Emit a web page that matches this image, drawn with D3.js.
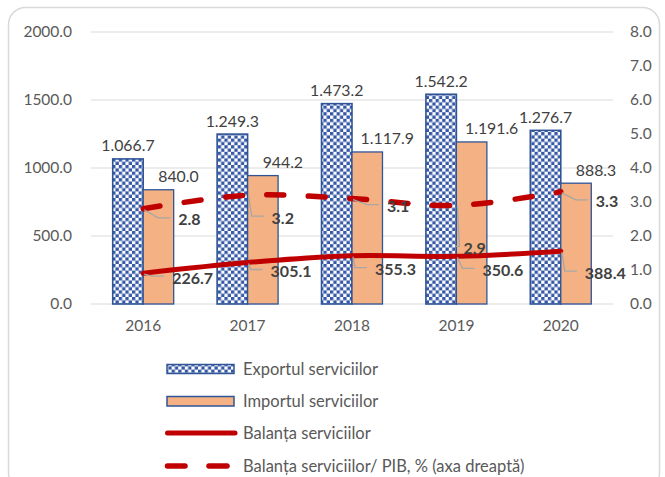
<!DOCTYPE html>
<html>
<head>
<meta charset="utf-8">
<script src="https://cdn.jsdelivr.net/npm/d3@7"></script>
<style>
  html, body { margin: 0; padding: 0; background: #fff; }
  svg { display: block; font-family: Lato, "Open Sans", sans-serif; }
</style>
</head>
<body>
<svg id="chart" width="665" height="477"></svg>
<script>
// Services trade, 2016–2020 (mil. USD) and balance as % of GDP
const years = ["2016", "2017", "2018", "2019", "2020"];
const exportVals = [1066.7, 1249.3, 1473.2, 1542.2, 1276.7];
const importVals = [840.0, 944.2, 1117.9, 1191.6, 888.3];
const balanceVals = [226.7, 305.1, 355.3, 350.6, 388.4];
const balanceGdpVals = [2.8, 3.2, 3.1, 2.9, 3.3];
const leftTicks = [0, 500, 1000, 1500, 2000];
const rightTicks = [0, 1, 2, 3, 4, 5, 6, 7, 8];
const seriesNames = [
  "Exportul serviciilor",
  "Importul serviciilor",
  "Balanța serviciilor",
  "Balanța serviciilor/ PIB, % (axa dreaptă)"
];

// label placement for the line series (offset of label's left edge / middle from the point)
const balanceLabelPos = [
  { dx: 29, dy: 5 }, { dx: 23, dy: 9 }, { dx: 23, dy: 14 }, { dx: 26, dy: 14 }, { dx: 24, dy: 22 }
];
const gdpLabelPos = [
  { dx: 35, dy: 11 }, { dx: 24, dy: 23 }, { dx: 35, dy: 8 }, { dx: 7, dy: 43 }, { dx: 35, dy: 10 }
];

const svg = d3.select("#chart");
const plot = { left: 91, right: 613, top: 32, bottom: 304 };

const x = d3.scaleBand().domain(years).range([plot.left, plot.right])
  .paddingInner(0.416).paddingOuter(0.208);
const xs = d3.scaleBand().domain(["exp", "imp"]).range([0, x.bandwidth()]);
const yL = d3.scaleLinear().domain([0, 2000]).range([plot.bottom, plot.top]);
const yR = d3.scaleLinear().domain([0, 8]).range([plot.bottom, plot.top]);
const cx = d => x(d) + x.bandwidth() / 2;

const grayText = "#595959";
const labelText = "#404040";
const red = "#C00000";
const blue = "#2F5597";
const orange = "#F4B183";

const fmtGroup = d3.formatLocale({ decimal: ".", thousands: ".", grouping: [3], currency: ["", ""] }).format(",.1f");
const fmt1 = d3.format(".1f");

// checkerboard fill for the export bars
const defs = svg.append("defs");
const pat = defs.append("pattern").attr("id", "checker")
  .attr("patternUnits", "userSpaceOnUse").attr("width", 6.6).attr("height", 6.6);
pat.append("rect").attr("width", 6.6).attr("height", 6.6).attr("fill", "#fff");
pat.append("rect").attr("width", 3.3).attr("height", 3.3).attr("fill", "#3558A6");
pat.append("rect").attr("x", 3.3).attr("y", 3.3).attr("width", 3.3).attr("height", 3.3).attr("fill", "#3558A6");

// outer frame
svg.append("rect").attr("x", 8.5).attr("y", 7.5).attr("width", 651).attr("height", 482)
  .attr("rx", 17).attr("fill", "#fff").attr("stroke", "#D9D9D9").attr("stroke-width", 1.5);

// gridlines
svg.append("g").selectAll("line").data(leftTicks).join("line")
  .attr("x1", plot.left).attr("x2", plot.right)
  .attr("y1", d => yL(d)).attr("y2", d => yL(d))
  .attr("stroke", "#D9D9D9").attr("stroke-width", 1.2);

// axes
const styleAxis = g => {
  g.select(".domain").remove();
  g.selectAll("text").attr("fill", grayText).style("font-size", "15.5px")
    .style("font-family", "Lato, 'Open Sans', sans-serif");
};
svg.append("g").attr("transform", `translate(${plot.left},0)`)
  .call(d3.axisLeft(yL).tickValues(leftTicks).tickSize(0).tickPadding(19).tickFormat(fmt1))
  .call(styleAxis);
svg.append("g").attr("transform", `translate(${plot.right},0)`)
  .call(d3.axisRight(yR).tickValues(rightTicks).tickSize(0).tickPadding(17).tickFormat(fmt1))
  .call(styleAxis);
svg.append("g").attr("transform", `translate(0,${plot.bottom})`)
  .call(d3.axisBottom(x).tickSize(0).tickPadding(16))
  .call(styleAxis);

// bars
const bars = svg.append("g");
bars.selectAll("rect.exp").data(years).join("rect").attr("class", "exp")
  .attr("x", (d) => x(d) + xs("exp"))
  .attr("width", xs.bandwidth())
  .attr("y", (d, i) => yL(exportVals[i]))
  .attr("height", (d, i) => yL(0) - yL(exportVals[i]))
  .attr("fill", "url(#checker)").attr("stroke", blue).attr("stroke-width", 1.6);
bars.selectAll("rect.imp").data(years).join("rect").attr("class", "imp")
  .attr("x", (d) => x(d) + xs("imp"))
  .attr("width", xs.bandwidth())
  .attr("y", (d, i) => yL(importVals[i]))
  .attr("height", (d, i) => yL(0) - yL(importVals[i]))
  .attr("fill", orange).attr("stroke", blue).attr("stroke-width", 1.3);

// bar value labels
const barLabels = svg.append("g").style("font-size", "15.8px").attr("fill", labelText);
barLabels.selectAll("text.exp").data(years).join("text")
  .attr("x", d => x(d) + xs("exp") + xs.bandwidth() / 2)
  .attr("y", (d, i) => yL(exportVals[i]) - 13)
  .attr("dy", "0.35em").attr("text-anchor", "middle")
  .text((d, i) => fmtGroup(exportVals[i]));
barLabels.selectAll("text.imp").data(years).join("text")
  .attr("x", d => x(d) + xs("imp") + xs.bandwidth() / 2 + 20)
  .attr("y", (d, i) => yL(importVals[i]) - 13)
  .attr("dy", "0.35em").attr("text-anchor", "middle")
  .text((d, i) => fmtGroup(importVals[i]));

// lines
const balancePts = years.map((d, i) => [cx(d), yL(balanceVals[i])]);
const gdpPts = years.map((d, i) => [cx(d), yR(balanceGdpVals[i])]);
const lineGen = d3.line().curve(d3.curveCatmullRom.alpha(0.5));

// leader lines + labels for a line series
function pointLabels(pts, vals, pos, fmt) {
  const g = svg.append("g");
  pts.forEach((p, i) => {
    const lx = p[0] + pos[i].dx, ly = p[1] + pos[i].dy;
    const end = [lx - 8, ly - 2];
    const elbow = [Math.max(p[0] + 3, end[0] - 12), end[1]];
    g.append("path")
      .attr("d", d3.line()([[p[0] + 1, p[1] + 1], elbow, end]))
      .attr("fill", "none").attr("stroke", "#A6A6A6").attr("stroke-width", 1.3);
    g.append("text").attr("x", lx).attr("y", ly).attr("dy", "0.35em")
      .attr("fill", labelText).style("font-size", "16px").style("font-weight", "bold")
      .text(fmt(vals[i]));
  });
}

svg.append("path").attr("d", lineGen(gdpPts))
  .attr("fill", "none").attr("stroke", red).attr("stroke-width", 5.5)
  .attr("stroke-linecap", "round").attr("stroke-dasharray", "17,24.5");
svg.append("path").attr("d", lineGen(balancePts))
  .attr("fill", "none").attr("stroke", red).attr("stroke-width", 5)
  .attr("stroke-linecap", "round");

pointLabels(gdpPts, balanceGdpVals, gdpLabelPos, fmt1);
pointLabels(balancePts, balanceVals, balanceLabelPos, fmt1);

// legend
const legend = svg.append("g");
const rows = [369, 401, 433, 466];
const symX0 = 167, symX1 = 234, textX = 243;
legend.append("rect").attr("x", symX0).attr("y", rows[0] - 4.5).attr("width", symX1 - symX0).attr("height", 9)
  .attr("fill", "url(#checker)").attr("stroke", blue).attr("stroke-width", 1.5);
legend.append("rect").attr("x", symX0).attr("y", rows[1] - 4.5).attr("width", symX1 - symX0).attr("height", 9.5)
  .attr("fill", orange).attr("stroke", blue).attr("stroke-width", 1.5);
legend.append("line").attr("x1", 167.5).attr("x2", 235).attr("y1", rows[2]).attr("y2", rows[2])
  .attr("stroke", red).attr("stroke-width", 5).attr("stroke-linecap", "round");
[[167.5, 185], [209, 227]].forEach(s => {
  legend.append("line").attr("x1", s[0]).attr("x2", s[1]).attr("y1", rows[3]).attr("y2", rows[3])
    .attr("stroke", red).attr("stroke-width", 5.5).attr("stroke-linecap", "round");
});
legend.selectAll("text").data(seriesNames).join("text")
  .attr("x", textX).attr("y", (d, i) => rows[i]).attr("dy", "0.35em")
  .attr("fill", grayText).style("font-size", "16.5px")
  .text(d => d);
</script>
</body>
</html>
